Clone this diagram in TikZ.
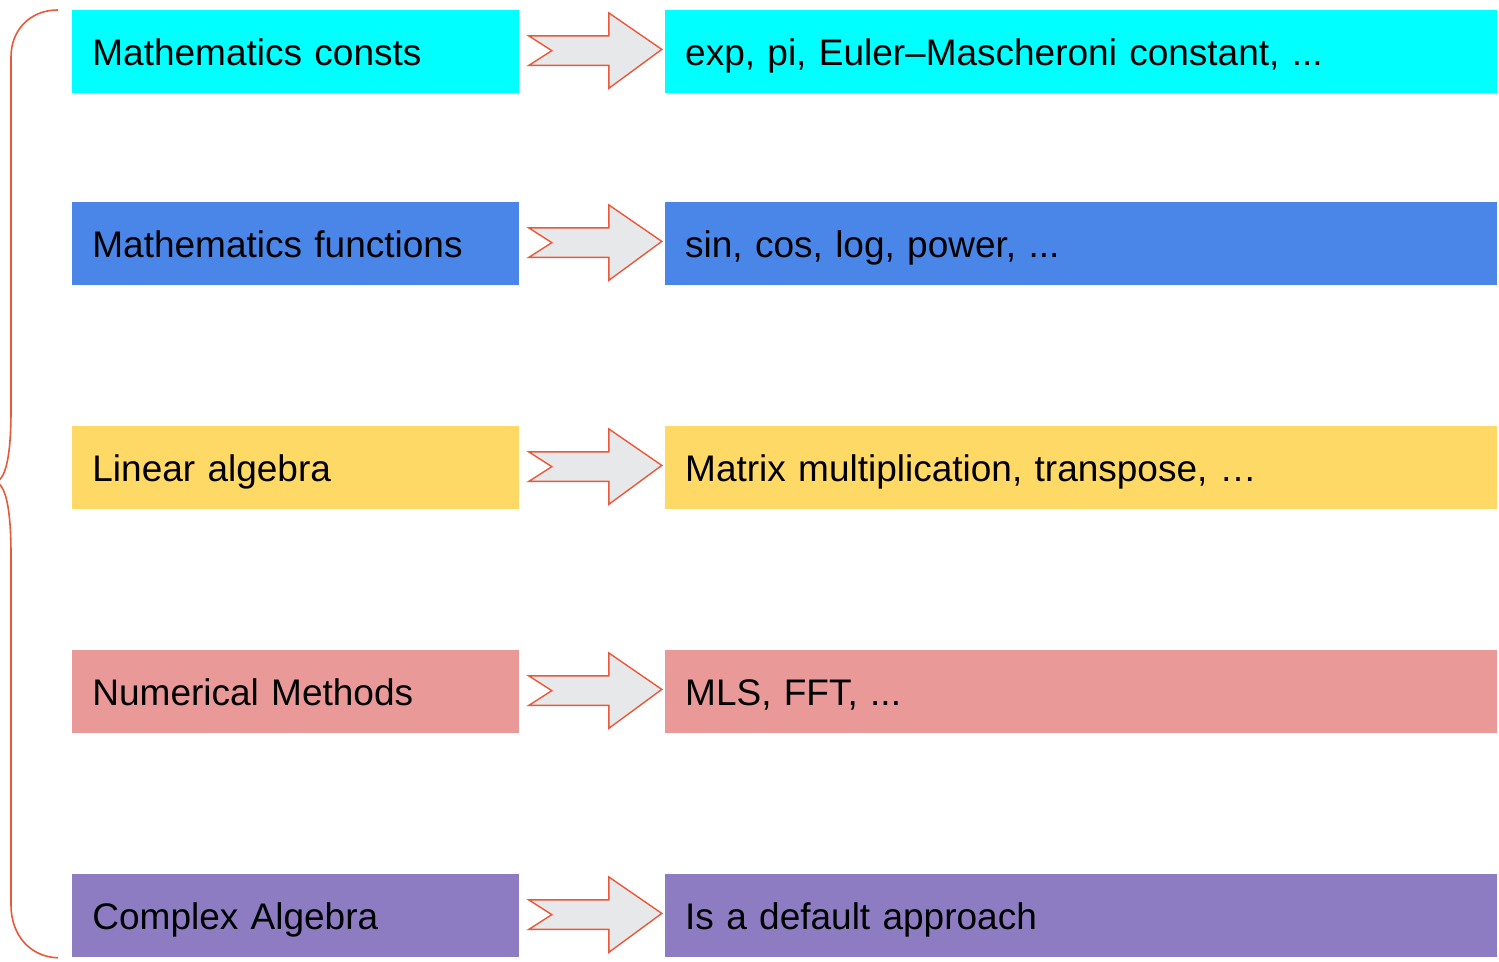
\documentclass[tikz,border=0pt]{standalone}
\usepackage{fontspec}
\setmainfont{Liberation Sans}
\usetikzlibrary{positioning,calc}

\definecolor{cconst}{HTML}{00FFFF}
\definecolor{cfunc}{HTML}{4A86E8}
\definecolor{clinalg}{HTML}{FFD966}
\definecolor{cnum}{HTML}{EA9999}
\definecolor{ccomplex}{HTML}{8E7CC3}
\definecolor{cline}{HTML}{E8593A}
\definecolor{carrowfill}{HTML}{E7E8EA}

\tikzset{
  topic/.style={fill=#1, anchor=north west, minimum height=41.5pt,
    inner xsep=10pt, text width=203.5pt, align=left,
    text height=17pt, text depth=3.8pt,
    font=\fontsize{18.5}{22}\selectfont},
  example/.style={fill=#1, minimum height=41.5pt,
    inner xsep=10pt, text width=396pt, align=left,
    text height=17pt, text depth=3.8pt,
    font=\fontsize{18.5}{22}\selectfont},
  fatarrow/.pic={
    \draw [cline, fill=carrowfill, line width=0.7pt, line join=miter]
      (-63.5,-16) -- (16.5,-16) -- (16.5,-39) -- (69.5,-2.5)
      -- (16.5,36.5) -- (16.5,13.5) -- (-63.5,13.5) -- (-40.5,-1.25) -- cycle;
  }
}

\begin{document}
\begin{tikzpicture}[x=0.5pt,y=-0.5pt]
\useasboundingbox (0,0) rectangle (1499,962);
% left column
\node [topic=cconst] (l1) at (72,10) {Mathematics consts};
\node [topic=cfunc] (l2) at (72,202) {Mathematics functions};
\node [topic=clinalg] (l3) at (72,426) {Linear algebra};
\node [topic=cnum] (l4) at (72,650) {Numerical Methods};
\node [topic=ccomplex] (l5) at (72,874) {Complex Algebra};
% right column
\node [example=cconst, right=72.5pt of l1] (r1) {exp, pi, Euler–Mascheroni constant, ...};
\node [example=cfunc, right=72.5pt of l2] (r2) {sin, cos, log, power, ...};
\node [example=clinalg, right=72.5pt of l3] (r3) {Matrix multiplication, transpose, …};
\node [example=cnum, right=72.5pt of l4] (r4) {MLS, FFT, ...};
\node [example=ccomplex, right=72.5pt of l5] (r5) {Is a default approach};
% arrows
\foreach \i in {1,...,5}
  \pic at ($(l\i.east)!0.5!(r\i.west)$) {fatarrow};
% brace
\coordinate (btop) at (l1.north west);
\coordinate (bbot) at (l5.south west);
\draw [cline, line width=0.8pt]
  ($(btop)+(-14,0)$) .. controls (30,10) and (11,30) .. (11,57)
  -- (11,410) .. controls (11,455) and (6,482) .. (-6,482)
  .. controls (6,482) and (11,510) .. (11,555)
  -- (11,905) .. controls (11,935) and (30,957) .. ($(bbot)+(-14,0)$);
\end{tikzpicture}
\end{document}
